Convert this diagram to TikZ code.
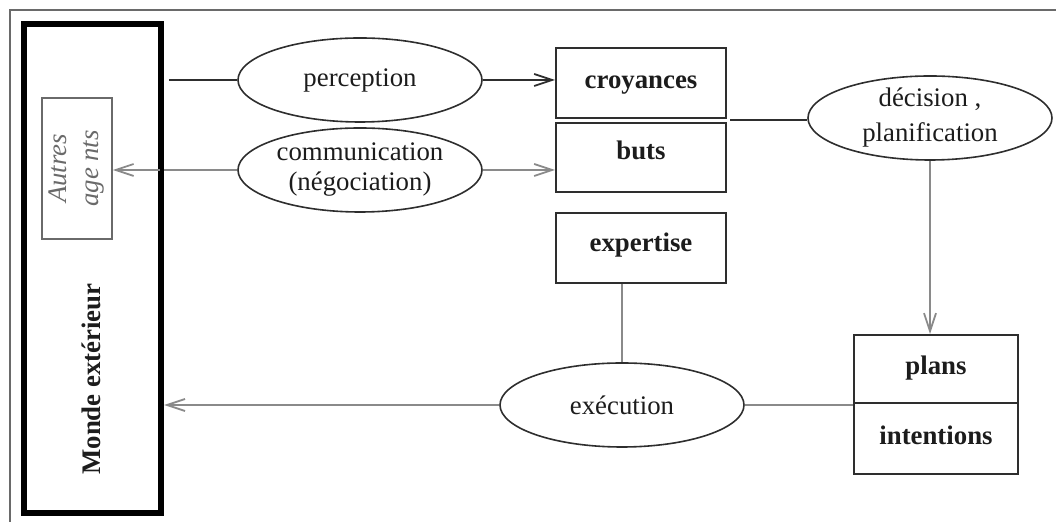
\documentclass[tikz,border=0pt]{standalone}
\usepackage{fontspec}
\setmainfont{Liberation Serif}
\usetikzlibrary{shapes.geometric,arrows.meta}
\definecolor{ink}{HTML}{1C1C1C}
\definecolor{edge}{HTML}{2E2E2E}
\definecolor{wire}{HTML}{8A8A8A}
\definecolor{soft}{HTML}{6A6A6A}
\begin{document}
\begin{tikzpicture}[x=0.5pt,y=-0.5pt,
  txt/.style={font=\fontsize{13.4}{15}\selectfont, text=ink},
  btxt/.style={font=\fontsize{13.4}{15}\selectfont\bfseries, text=ink},
  store/.style={draw=edge, line width=1pt, inner sep=0pt, anchor=north west,
    btxt, text height=1.55ex, text depth=.25ex},
  act/.style={ellipse, draw=edge, line width=0.8pt, inner sep=0pt,
    minimum width=122pt, minimum height=42pt, txt, align=center},
  world/.style={draw=black, line width=1.8pt},
  dark/.style={draw=edge, line width=1pt},
  grey/.style={draw=wire, line width=1.1pt},
  tip/.style={-{Straight Barb[length=9pt,width=6pt,line width=0.9pt]}},
]
\useasboundingbox (0,0) rectangle (1056,522);

% outer frame, running off the right and bottom borders
\draw[draw=soft, line width=0.8pt] (1070,10) -- (10,10) -- (10,535);

% external world and the other agents
\node[world, minimum width=67.5pt, minimum height=243.5pt,
      inner sep=0pt] (monde) at (92.5,268.5) {};
\node[btxt, rotate=90] (mondeT) at (91,379) {Monde extérieur};
\node[draw=soft, line width=0.8pt, minimum width=70.5pt, minimum height=35pt,
      inner sep=0pt, rotate=90, align=center,
      font=\fontsize{13.4}{16}\selectfont\itshape, text=soft]
      (autres) at (77,168.5) {Autres\\age\hspace{3pt}nts};

% mental states
\node[store, minimum width=85pt, minimum height=35pt]   (croy) at (555,47)  {croyances};
\node[store, minimum width=85pt, minimum height=34.5pt, text depth=1.1ex] (buts) at (555,122) {buts};
\node[store, minimum width=85pt, minimum height=35pt, text depth=.8ex]   (expert) at (555,212) {expertise};
\node[store, minimum width=82pt, minimum height=34pt]   (plans) at (853,334) {plans};
\node[store, minimum width=82pt, minimum height=35.5pt] (intent) at (853,402) {intentions};

% processes
\node[act] (perc) at (360,80)  {perception};
\node[act] (comm) at (360,170) {communication\\(négociation)};
\node[act] (dec)  at (930,118) {décision ,\\[2.5pt]planification};
\node[act] (exec) at (622,405) {exécution};

% connectors
\coordinate (pin) at (169,80);
\coordinate (fork) at (730,120);
\draw[dark] (pin) -- (perc.west);
\draw[dark, tip] (perc.east) -- (perc.east -| croy.west);
\draw[grey, tip] (comm.east) -- (comm.east -| buts.west);
\draw[grey, tip] (comm.west) -- (comm.west -| autres.south);
\draw[dark] (fork) -- (fork -| dec.west);
\draw[grey, tip] (dec.south) -- (dec.south |- plans.north);
\draw[grey] (expert.south -| exec.north) -- (exec.north);
\draw[grey] (exec.east) -- (exec.east -| plans.west);
\draw[grey, tip, shorten >=1.2pt] (exec.west) -- (exec.west -| monde.east);

% redraw the world border over the crossing wire
\draw[world] (monde.north east) rectangle (monde.south west);
\end{tikzpicture}
\end{document}
